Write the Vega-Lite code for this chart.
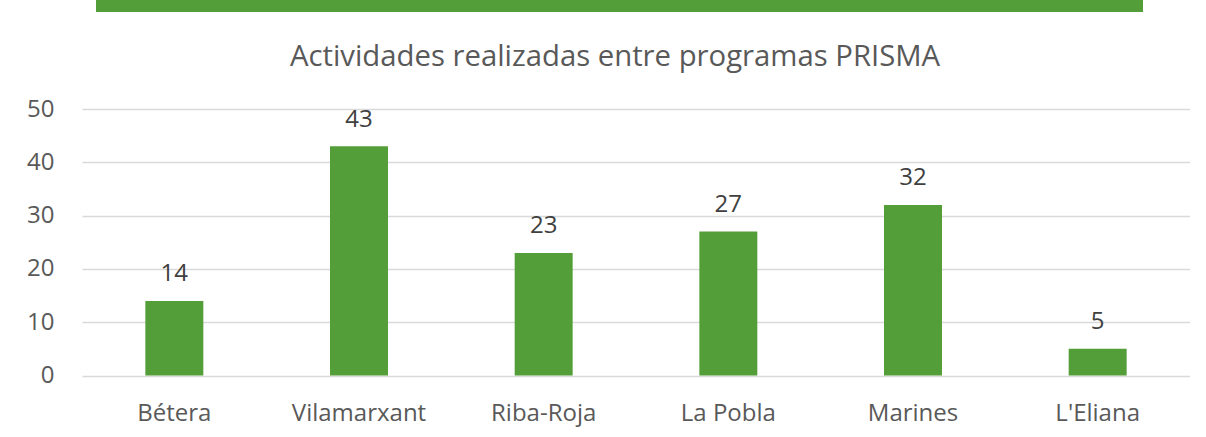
{
  "$schema": "https://vega.github.io/schema/vega-lite/v6.json",
  "padding": {"left": 26, "top": 0, "right": 0, "bottom": 1},
  "background": "white",
  "bounds": "flush",
  "spacing": 109,
  "config": {
    "view": {"stroke": null},
    "axis": {
      "labelFont": "Open Sans",
      "labelFontSize": 24,
      "labelColor": "#595959",
      "ticks": false,
      "domain": false,
      "title": null
    }
  },
  "datasets": {
    "actividades": [
      {"municipio": "Bétera", "actividades": 14},
      {"municipio": "Vilamarxant", "actividades": 43},
      {"municipio": "Riba-Roja", "actividades": 23},
      {"municipio": "La Pobla", "actividades": 27},
      {"municipio": "Marines", "actividades": 32},
      {"municipio": "L'Eliana", "actividades": 5}
    ],
    "cabecera": [{"elemento": "franja"}]
  },
  "vconcat": [
    {
      "spacing": 0,
      "bounds": "flush",
      "hconcat": [
        {
          "width": 14,
          "height": 12,
          "data": {"name": "cabecera"},
          "mark": {"type": "rect", "opacity": 0},
          "encoding": {}
        },
        {
          "width": 1047,
          "height": 12,
          "data": {"name": "cabecera"},
          "mark": {"type": "rect", "color": "#549e39"},
          "encoding": {}
        }
      ]
    },
    {
      "width": 1108,
      "height": 266.5,
      "data": {"name": "actividades"},
      "title": {
        "text": "Actividades realizadas entre programas PRISMA",
        "font": "Open Sans",
        "fontSize": 29.3,
        "fontWeight": "normal",
        "color": "#595959",
        "anchor": "middle",
        "dx": -21,
        "offset": 25
      },
      "encoding": {
        "x": {
          "field": "municipio",
          "type": "nominal",
          "sort": null,
          "scale": {"paddingInner": 0.686, "paddingOuter": 0.343},
          "axis": {"labelAngle": 0, "grid": false, "labelPadding": 26}
        },
        "y": {
          "field": "actividades",
          "type": "quantitative",
          "scale": {"domain": [0, 50]},
          "axis": {"values": [0, 10, 20, 30, 40, 50], "grid": true, "gridColor": "#d9d9d9", "gridWidth": 1.5, "labelPadding": 28}
        }
      },
      "layer": [
        {"mark": {"type": "bar", "color": "#549e39"}},
        {
          "mark": {"type": "text", "font": "Open Sans", "fontSize": 24, "color": "#404040", "baseline": "alphabetic", "dy": -19.5},
          "encoding": {"text": {"field": "actividades", "type": "quantitative"}}
        }
      ]
    }
  ]
}
